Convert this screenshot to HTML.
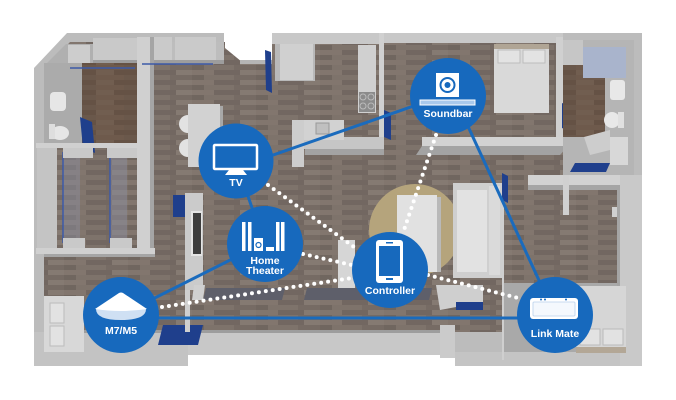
<!DOCTYPE html>
<html><head><meta charset="utf-8"><style>
html,body{margin:0;padding:0;background:#fff;}
svg{display:block;}
text{font-family:"Liberation Sans",Arial,sans-serif;font-weight:bold;fill:#fff;text-anchor:middle;}
</style></head><body>
<svg width="676" height="400" viewBox="0 0 676 400" xmlns="http://www.w3.org/2000/svg">
<defs>
<pattern id="wood" width="64" height="10" patternUnits="userSpaceOnUse">
<rect width="64" height="10" fill="#796e67"/>
<rect x="0" y="0" width="22" height="5" fill="#82766e"/>
<rect x="22" y="0" width="26" height="5" fill="#726761"/>
<rect x="48" y="0" width="16" height="5" fill="#857a72"/>
<rect x="0" y="5" width="12" height="5" fill="#70665f"/>
<rect x="12" y="5" width="30" height="5" fill="#7e736b"/>
<rect x="42" y="5" width="22" height="5" fill="#766b64"/>
</pattern>
<pattern id="woodd" width="48" height="10" patternUnits="userSpaceOnUse">
<rect width="48" height="10" fill="#6a584b"/>
<rect x="0" y="0" width="18" height="5" fill="#715e50"/>
<rect x="18" y="0" width="30" height="5" fill="#655245"/>
<rect x="0" y="5" width="28" height="5" fill="#6e5a4c"/>
</pattern>
</defs>

<!-- outer silhouette -->
<polygon points="67,33 224,33 224,50 240,63 272,63 272,33 642,33 642,366 455,366 455,355 188,355 188,366 34,366 34,68" fill="#bcbcbc"/>
<!-- floor -->
<polygon points="44,70 70,42 634,42 634,332 44,332" fill="url(#wood)"/>
<!-- notch white -->
<polygon points="225,30 272,30 272,62 242,62 225,48" fill="#fff"/>
<rect x="240" y="60" width="32" height="4" fill="#b5b5b5"/>

<!-- bottom walls -->
<rect x="34" y="332" width="154" height="34" fill="#c3c3c3"/>
<rect x="188" y="330" width="267" height="25" fill="#c8c8c8"/>
<rect x="44" y="330" width="400" height="3" fill="#9d9d9d"/>
<rect x="503" y="283" width="117" height="70" fill="#a9a9a9"/>
<rect x="455" y="352" width="187" height="14" fill="#c4c4c4"/>

<!-- left column top -->
<polygon points="44,66 66,44 137,44 137,66" fill="#b0b0b0"/>
<rect x="68" y="45" width="22" height="20" fill="#cdcdcd"/>
<rect x="93" y="38" width="44" height="22" fill="#c9c9c9"/>
<rect x="93" y="60" width="44" height="5" fill="#9d9d9d"/>
<rect x="44" y="63" width="38" height="82" fill="#ababab"/>
<rect x="82" y="63" width="55" height="82" fill="url(#woodd)"/>
<line x1="70" y1="68" x2="135" y2="68" stroke="#3c5aa8" stroke-width="1.5"/>
<rect x="50" y="92" width="16" height="19" rx="4" fill="#e6e6e6"/>
<ellipse cx="60" cy="133" rx="9" ry="7" fill="#e6e6e6"/>
<rect x="49" y="124" width="6" height="15" fill="#dedede"/>
<polygon points="80,117 92,122 95,153 83,148" fill="#1f3f8c"/>
<rect x="36" y="143" width="114" height="5" fill="#d0d0d0"/>
<rect x="137" y="37" width="13" height="216" fill="#d0d0d0"/>
<rect x="150" y="37" width="4" height="216" fill="#a5a5a5"/>

<!-- left closets -->
<rect x="37" y="148" width="20" height="102" fill="#c4c4c4"/>
<rect x="63" y="150" width="17" height="92" fill="#8a8c9c" opacity="0.5"/>
<rect x="110" y="150" width="17" height="92" fill="#8a8c9c" opacity="0.5"/>
<line x1="63" y1="152" x2="63" y2="243" stroke="#3c5aa8" stroke-width="1.5"/>
<line x1="110" y1="152" x2="110" y2="243" stroke="#3c5aa8" stroke-width="1.5"/>
<rect x="63" y="148" width="30" height="10" fill="#c9c9c9"/>
<rect x="107" y="148" width="30" height="10" fill="#c9c9c9"/>
<rect x="63" y="238" width="22" height="10" fill="#c9c9c9"/>
<rect x="110" y="238" width="22" height="10" fill="#c9c9c9"/>
<rect x="36" y="248" width="119" height="6" fill="#d0d0d0"/>
<rect x="44" y="254" width="111" height="3" fill="#a5a5a5"/>

<!-- left bedroom -->
<rect x="44" y="296" width="40" height="56" fill="#d8d8d8"/>
<rect x="50" y="303" width="14" height="20" fill="#e2e2e2" stroke="#bbb"/>
<rect x="50" y="326" width="14" height="20" fill="#e2e2e2" stroke="#bbb"/>
<polygon points="163,325 203,325 198,345 158,345" fill="#1f3f8c"/>
<rect x="185" y="288" width="5" height="44" fill="#cfcfcf"/>

<!-- top closets -->
<rect x="154" y="42" width="70" height="22" fill="#bdbdbd"/>
<rect x="154" y="37" width="18" height="24" fill="#cacaca"/>
<rect x="175" y="37" width="41" height="24" fill="#cacaca"/>
<rect x="154" y="60" width="70" height="4" fill="#9d9d9d"/>
<line x1="142" y1="64" x2="213" y2="64" stroke="#3c5aa8" stroke-width="1.5"/>

<!-- dining -->
<rect x="188" y="104" width="32" height="63" fill="#d2d2d2"/>
<rect x="220" y="106" width="3" height="61" fill="#a8a8a8"/>
<path d="M188,115 A9,9 0 0 0 188,133 Z" fill="#e2e2e2"/>
<path d="M188,139 A9,9 0 0 0 188,157 Z" fill="#e2e2e2"/>

<!-- entertainment -->
<rect x="173" y="195" width="12" height="22" fill="#1f3f8c"/>
<rect x="185" y="193" width="18" height="97" fill="#cbcbcb"/>
<rect x="191" y="211" width="11" height="45" fill="#e4e4e4"/>
<rect x="193" y="213" width="8" height="41" fill="#3d3d3d"/>

<!-- kitchen -->
<polygon points="265,50 271,52 272,93 266,90" fill="#1f3f8c"/>
<rect x="275" y="37" width="40" height="44" fill="#b9b9b9"/>
<rect x="280" y="38" width="33" height="42" fill="#d0d0d0"/>
<rect x="272" y="33" width="111" height="11" fill="#c8c8c8"/>
<rect x="358" y="45" width="18" height="68" fill="#d0d0d0"/>
<rect x="359" y="92" width="16" height="20" fill="#8b8b8b"/>
<circle cx="363" cy="97" r="3" fill="none" stroke="#bbb"/>
<circle cx="371" cy="97" r="3" fill="none" stroke="#bbb"/>
<circle cx="363" cy="106" r="3" fill="none" stroke="#bbb"/>
<circle cx="371" cy="106" r="3" fill="none" stroke="#bbb"/>
<rect x="379" y="33" width="5" height="107" fill="#d0d0d0"/>
<rect x="300" y="137" width="84" height="12" fill="#c6c6c6"/>
<rect x="305" y="149" width="79" height="6" fill="#a3a3a3"/>
<rect x="292" y="120" width="52" height="20" fill="#d2d2d2"/>
<rect x="292" y="120" width="12" height="47" fill="#cdcdcd"/>
<rect x="316" y="123" width="13" height="11" fill="#c0c0c0" stroke="#999"/>
<polygon points="384,110 391,113 391,140 384,137" fill="#1f3f8c"/>

<!-- top right bedroom -->
<rect x="384" y="33" width="179" height="10" fill="#c8c8c8"/>
<rect x="494" y="45" width="55" height="68" fill="#d9d9d9"/>
<rect x="494" y="44" width="55" height="5" fill="#b0a595"/>
<rect x="498" y="50" width="22" height="13" fill="#e3e3e3" stroke="#bdbdbd"/>
<rect x="523" y="50" width="22" height="13" fill="#e3e3e3" stroke="#bdbdbd"/>
<rect x="556" y="37" width="7" height="103" fill="#d0d0d0"/>
<rect x="422" y="137" width="146" height="9" fill="#d2d2d2"/>
<polygon points="416,155 422,146 568,146 560,155" fill="#a3a3a3"/>
<polygon points="562,103 569,106 569,131 562,128" fill="#1f3f8c"/>

<!-- top right bath -->
<rect x="563" y="40" width="71" height="135" fill="#b5b5b5"/>
<rect x="563" y="65" width="42" height="72" fill="url(#woodd)"/>
<rect x="583" y="47" width="43" height="31" fill="#a9b4cc"/>
<rect x="563" y="40" width="20" height="25" fill="#c6c6c6"/>
<rect x="610" y="80" width="15" height="20" rx="3" fill="#e8e8e8"/>
<ellipse cx="612" cy="120" rx="8" ry="8" fill="#e8e8e8"/>
<rect x="618" y="112" width="6" height="16" fill="#e0e0e0"/>
<polygon points="584,137 610,130 610,150 590,155" fill="#cdcdcd"/>
<rect x="610" y="137" width="18" height="28" fill="#d8d8d8"/>
<polygon points="575,163 610,163 606,172 570,172" fill="#1f3f8c"/>
<rect x="528" y="175" width="106" height="10" fill="#d2d2d2"/>
<rect x="528" y="185" width="106" height="5" fill="#a5a5a5"/>
<rect x="563" y="175" width="6" height="40" fill="#d0d0d0"/>
<rect x="612" y="207" width="22" height="10" fill="#d0d0d0"/>

<!-- right room -->
<rect x="620" y="175" width="22" height="191" fill="#c9c9c9"/>
<rect x="617" y="190" width="3" height="160" fill="#a5a5a5"/>
<rect x="576" y="286" width="50" height="64" fill="#d6d6d6"/>
<rect x="580" y="329" width="20" height="16" fill="#e2e2e2" stroke="#bbb"/>
<rect x="603" y="329" width="20" height="16" fill="#e2e2e2" stroke="#bbb"/>
<rect x="576" y="347" width="50" height="6" fill="#b3a796"/>
<line x1="503" y1="200" x2="503" y2="360" stroke="#cfcfcf" stroke-width="2"/>
<rect x="440" y="325" width="15" height="33" fill="#cbcbcb"/>

<!-- living -->
<circle cx="415" cy="230" r="46" fill="#b5a47c"/>
<rect x="397" y="195" width="40" height="77" fill="#e1e1e1"/>
<rect x="437" y="197" width="4" height="75" fill="#b9b9b9"/>
<rect x="453" y="183" width="49" height="95" fill="#cfcfcf"/>
<rect x="457" y="190" width="30" height="82" fill="#e2e2e2"/>
<rect x="489" y="186" width="11" height="89" fill="#dadada"/>
<polygon points="502,173 508,176 508,203 502,200" fill="#1f3f8c"/>
<rect x="338" y="240" width="17" height="48" fill="#d6d6d6"/>
<polygon points="194,285 205,285 203,300 192,300" fill="#d0d0d0"/>
<polygon points="206,288 285,288 282,300 203,300" fill="#5e5f6a"/>
<polygon points="307,288 432,288 429,300 304,300" fill="#5e5f6a"/>
<polygon points="436,285 483,285 483,302 440,310" fill="#cfcfcf"/>
<rect x="456" y="302" width="27" height="8" fill="#1f3f8c"/>

<!-- solid connectors -->
<g stroke="#1a6bbd" stroke-width="3" fill="none">
<line x1="236" y1="168" x2="448" y2="94"/>
<line x1="454" y1="96" x2="555" y2="315"/>
<line x1="236" y1="161" x2="264" y2="243"/>
<line x1="121" y1="315" x2="264" y2="243"/>
<line x1="121" y1="318" x2="555" y2="318"/>
</g>
<!-- dotted connectors -->
<g stroke="#fff" stroke-width="4" stroke-linecap="round" stroke-dasharray="0 7" fill="none">
<line x1="268" y1="185" x2="354" y2="247"/>
<line x1="303" y1="254" x2="352" y2="265"/>
<line x1="162" y1="307" x2="352" y2="278"/>
<line x1="436" y1="135" x2="403" y2="233"/>
<line x1="428" y1="275" x2="518" y2="298"/>
</g>

<!-- circles -->
<g fill="#1769bd">
<circle cx="448" cy="96" r="38"/>
<circle cx="236" cy="161" r="37.5"/>
<circle cx="265" cy="244" r="38"/>
<circle cx="121" cy="315" r="38"/>
<circle cx="390" cy="270" r="38"/>
<circle cx="555" cy="315" r="38"/>
</g>

<!-- Soundbar icon -->
<rect x="436" y="73" width="23" height="24" fill="#fff"/>
<circle cx="447.5" cy="85" r="7" fill="none" stroke="#1769bd" stroke-width="2"/>
<circle cx="447.5" cy="85" r="3" fill="#1769bd"/>
<rect x="420" y="100" width="55" height="5" fill="#a9c9ec" stroke="#fff" stroke-width="1"/>
<text x="448" y="117" font-size="10.5">Soundbar</text>

<!-- TV icon -->
<rect x="214" y="145" width="43" height="24" rx="1" fill="none" stroke="#fff" stroke-width="2.5"/>
<polygon points="229,170 243,170 247,175 225,175" fill="#fff"/>
<text x="236" y="186" font-size="10.5">TV</text>

<!-- Home theater icon -->
<g fill="#fff">
<rect x="242" y="222" width="3.5" height="29"/>
<rect x="248" y="222" width="3.5" height="29"/>
<rect x="276" y="222" width="3.5" height="29"/>
<rect x="281" y="222" width="3.5" height="29"/>
<rect x="254" y="238" width="9" height="13"/>
<rect x="266" y="247" width="8" height="4"/>
</g>
<circle cx="258.5" cy="245" r="2.5" fill="none" stroke="#1769bd" stroke-width="1.2"/>
<text x="265" y="264" font-size="10.5">Home</text>
<text x="265" y="274" font-size="10.5">Theater</text>

<!-- M7/M5 icon -->
<path d="M96,309 Q96,320 121,320 Q146,320 146,309 Z" fill="#cfe0f3"/>
<path d="M95,309 L119,293 Q121,292 123,293 L147,309 Q121,313 95,309 Z" fill="#fff"/>
<text x="121" y="334" font-size="10.5">M7/M5</text>

<!-- Controller icon -->
<rect x="376" y="240" width="27" height="43" rx="3" fill="#fff"/>
<rect x="379" y="246" width="21" height="30" fill="#1769bd"/>
<rect x="386" y="278" width="7" height="2" fill="#1769bd"/>
<rect x="386" y="242" width="7" height="1.5" fill="#1769bd"/>
<text x="390" y="294" font-size="10.5">Controller</text>

<!-- Link Mate icon -->
<rect x="530" y="298" width="48" height="21" rx="3" fill="#fff"/>
<rect x="533" y="302" width="42" height="14" rx="1" fill="#f4f8fd" stroke="#b8d0ec" stroke-width="0.8"/>
<circle cx="541" cy="299.5" r="1" fill="#1769bd"/>
<circle cx="545" cy="299.5" r="1" fill="#1769bd"/>
<circle cx="566" cy="299.5" r="1" fill="#1769bd"/>
<text x="555" y="337" font-size="10.5">Link Mate</text>
</svg>
</body></html>
